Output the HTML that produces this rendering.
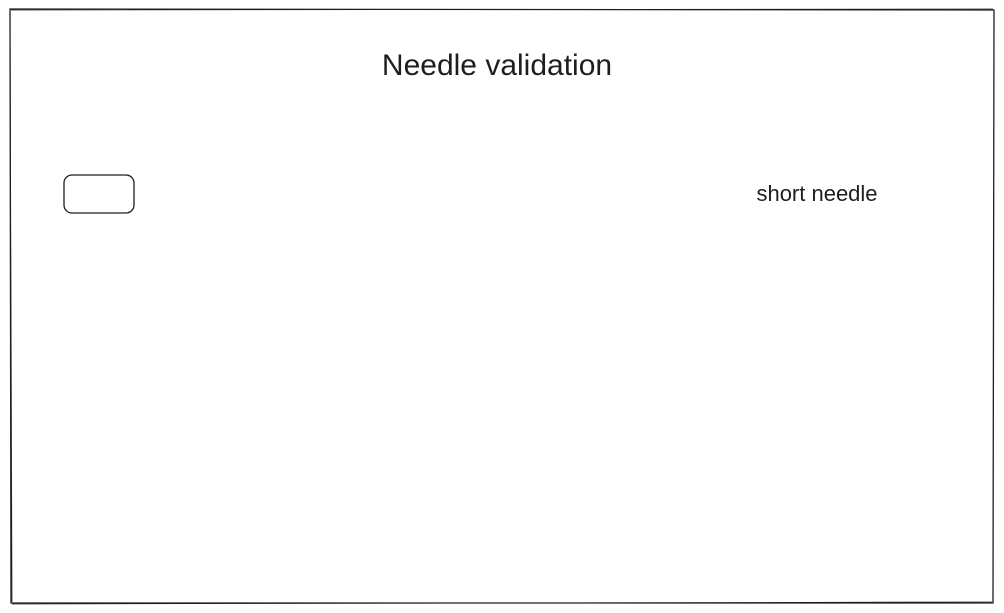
<!DOCTYPE html>
<html><head><meta charset="utf-8"><style>
html,body{margin:0;padding:0;background:#fff;width:1004px;height:613px;overflow:hidden}
svg{display:block}
text{font-family:"Liberation Sans",sans-serif;fill:#1e1e1e}
</style></head><body>
<svg width="1004" height="613" viewBox="0 0 1004 613">
<rect width="1004" height="613" fill="#fff"/>
<path d="M10 9 L994 10 L993 603 L11 603 Z" fill="none" stroke="#1e1e1e" stroke-width="1.3"/>
<path d="M11 10 L993 9 M10 10 L12 602 M12 604 L992 602" fill="none" stroke="#1e1e1e" stroke-width="0.8"/>
<text x="497" y="75" font-size="30" text-anchor="middle">Needle validation</text>
<rect x="64" y="175" width="70" height="38" rx="8" fill="none" stroke="#1e1e1e" stroke-width="1.3"/>
<text x="817" y="201" font-size="22" text-anchor="middle">short needle</text>
</svg>
</body></html>
